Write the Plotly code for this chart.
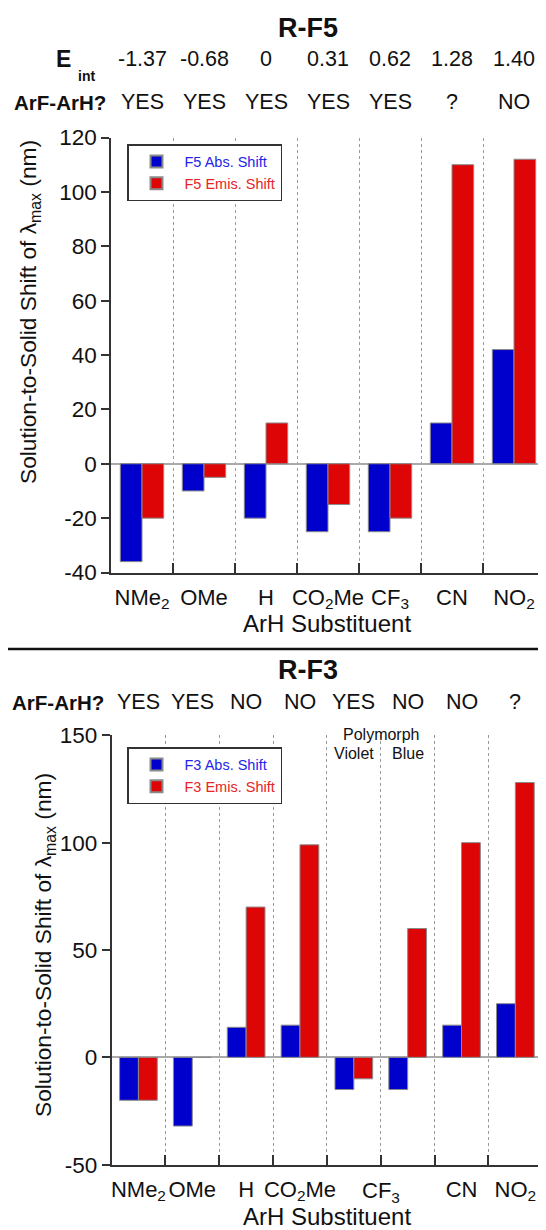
import plotly.graph_objects as go

# the page shows the figure offset by the 8px body margin; size and map coordinates for that
OFF = 8
W, H = 546 - OFF, 1230 - OFF

# ---------------- data ----------------
f5_categories = ["NMe2", "OMe", "H", "CO2Me", "CF3", "CN", "NO2"]
f5_ticktext = ["NMe<sub>2</sub>", "OMe", "H", "CO<sub>2</sub>Me", "CF<sub>3</sub>", "CN", "NO<sub>2</sub>"]
f5_abs = [-36, -10, -20, -25, -25, 15, 42]
f5_emis = [-20, -5, 15, -15, -20, 110, 112]
f5_eint = ["-1.37", "-0.68", "0", "0.31", "0.62", "1.28", "1.40"]
f5_arf = ["YES", "YES", "YES", "YES", "YES", "?", "NO"]
f5_yticks = [-40, -20, 0, 20, 40, 60, 80, 100, 120]

f3_categories = ["NMe2", "OMe", "H", "CO2Me", "CF3 Violet", "CF3 Blue", "CN", "NO2"]
f3_ticktext = ["NMe<sub>2</sub>", "OMe", "H", "CO<sub>2</sub>Me", " ", " ", "CN", "NO<sub>2</sub>"]
f3_abs = [-20, -32, 14, 15, -15, -15, 15, 25]
f3_emis = [-20, 0, 70, 99, -10, 60, 100, 128]
f3_arf = ["YES", "YES", "NO", "NO", "YES", "NO", "NO", "?"]
f3_polymorph = {"CF3 Violet": "Violet", "CF3 Blue": "Blue"}
f3_yticks = [-50, 0, 50, 100, 150]

BLUE = "#0000cc"
RED = "#dd0505"
FONT = "Liberation Sans, Arial, sans-serif"
AX = "#333333"


def px(x):
    return (x - OFF) / W


def py(y):
    return 1 - (y - OFF) / H


fig = go.Figure()

fig.add_trace(go.Bar(x=f5_categories, y=f5_abs, name="<span style='color:#2424e8'>F5 Abs. Shift</span>",
                     marker=dict(color=BLUE, line=dict(color="#8a8a8a", width=1)),
                     xaxis="x", yaxis="y", legend="legend"))
fig.add_trace(go.Bar(x=f5_categories, y=f5_emis, name="<span style='color:#e82424'>F5 Emis. Shift</span>",
                     marker=dict(color=RED, line=dict(color="#8a8a8a", width=1)),
                     xaxis="x", yaxis="y", legend="legend"))
fig.add_trace(go.Bar(x=f3_categories, y=f3_abs, name="<span style='color:#2424e8'>F3 Abs. Shift</span>",
                     marker=dict(color=BLUE, line=dict(color="#8a8a8a", width=1)),
                     xaxis="x2", yaxis="y2", legend="legend2"))
fig.add_trace(go.Bar(x=f3_categories, y=f3_emis, name="<span style='color:#e82424'>F3 Emis. Shift</span>",
                     marker=dict(color=RED, line=dict(color="#8a8a8a", width=1)),
                     xaxis="x2", yaxis="y2", legend="legend2"))

xcommon = dict(type="category", tickson="boundaries", ticks="inside", ticklen=10, tickwidth=1.5,
               tickcolor=AX, showgrid=True, gridcolor="#9a9a9a", griddash="dot", gridwidth=1,
               showline=True, linecolor=AX, linewidth=1.5, tickfont=dict(size=22, color="#111"),
               tickangle=0, ticklabelstandoff=4, automargin=False, fixedrange=True)
ycommon = dict(ticks="outside", ticklen=8, tickwidth=1.5, tickcolor=AX, showgrid=False,
               zeroline=True, zerolinecolor="#aaaaaa", zerolinewidth=1.5,
               showline=True, linecolor=AX, linewidth=1.5, tickfont=dict(size=22.5, color="#111"),
               tickmode="array", automargin=False, fixedrange=True)

legcommon = dict(bgcolor="white", bordercolor=AX, borderwidth=1.5, font=dict(size=14.5, family=FONT),
                 xanchor="left", yanchor="top", itemsizing="constant", itemwidth=46, tracegroupgap=0)

fig.update_layout(
    width=W, height=H, autosize=False,
    margin=dict(l=0, r=0, t=0, b=0, pad=0, autoexpand=False),
    paper_bgcolor="white", plot_bgcolor="white",
    font=dict(family=FONT, color="#111"),
    barmode="group", bargap=0.3, bargroupgap=0,
    xaxis=dict(domain=[px(111), px(545)], anchor="y", tickmode="array",
               tickvals=f5_categories, ticktext=f5_ticktext, **xcommon),
    yaxis=dict(domain=[py(572.5), py(137.5)], anchor="x", range=[-40, 120],
               tickvals=f5_yticks, ticktext=[str(v) for v in f5_yticks], **ycommon),
    xaxis2=dict(domain=[px(111.5), px(542.3)], anchor="y2", tickmode="array",
                tickvals=f3_categories, ticktext=f3_ticktext, **xcommon),
    yaxis2=dict(domain=[py(1164.7), py(735.3)], anchor="x2", range=[-50, 150],
                tickvals=f3_yticks, ticktext=[str(v) for v in f3_yticks], **ycommon),
    legend=dict(x=px(127), y=py(144), **legcommon),
    legend2=dict(x=px(127), y=py(747), **legcommon),
    showlegend=True,
)

ann = []
# titles
ann.append(dict(text="<b>R-F5</b>", x=px(308), y=py(28), xref="paper", yref="paper",
                showarrow=False, font=dict(size=27), xanchor="center", yanchor="middle"))
ann.append(dict(text="<b>R-F3</b>", x=px(308), y=py(670), xref="paper", yref="paper",
                showarrow=False, font=dict(size=27), xanchor="center", yanchor="middle"))
# E_int header
ann.append(dict(text="<b>E</b>", x=px(63.5), y=py(59), xref="paper", yref="paper",
                showarrow=False, font=dict(size=23), xanchor="center", yanchor="middle"))
ann.append(dict(text="<b>int</b>", x=px(86), y=py(76), xref="paper", yref="paper",
                showarrow=False, font=dict(size=14), xanchor="center", yanchor="middle"))
for c, v in zip(f5_categories, f5_eint):
    ann.append(dict(text=v, x=c, y=py(59), xref="x", yref="paper", showarrow=False,
                    font=dict(size=21.5), xanchor="center", yanchor="middle"))
# ArF-ArH rows
ann.append(dict(text="<b>ArF-ArH?</b>", x=px(60), y=py(102.5), xref="paper", yref="paper",
                showarrow=False, font=dict(size=20.5), xanchor="center", yanchor="middle"))
for c, v in zip(f5_categories, f5_arf):
    ann.append(dict(text=v, x=c, y=py(102.5), xref="x", yref="paper", showarrow=False,
                    font=dict(size=21.5), xanchor="center", yanchor="middle"))
ann.append(dict(text="<b>ArF-ArH?</b>", x=px(58), y=py(702), xref="paper", yref="paper",
                showarrow=False, font=dict(size=20.5), xanchor="center", yanchor="middle"))
for c, v in zip(f3_categories, f3_arf):
    ann.append(dict(text=v, x=c, y=py(702), xref="x2", yref="paper", showarrow=False,
                    font=dict(size=21.5), xanchor="center", yanchor="middle"))
# polymorph labels
ann.append(dict(text="Polymorph", x=4.5, y=py(734), xref="x2", yref="paper", showarrow=False,
                font=dict(size=16), xanchor="center", yanchor="middle"))
for c, v in f3_polymorph.items():
    ann.append(dict(text=v, x=c, y=py(753), xref="x2", yref="paper", showarrow=False,
                    font=dict(size=16), xanchor="center", yanchor="middle"))
# CF3 label for bottom chart (spanning both polymorphs)
ann.append(dict(text="CF<sub>3</sub>", x=4.5, y=py(1192), xref="x2", yref="paper", showarrow=False,
                font=dict(size=22), xanchor="center", yanchor="middle"))
# axis titles
ann.append(dict(text="ArH Substituent", x=px(327), y=py(623.5), xref="paper", yref="paper",
                showarrow=False, font=dict(size=24), xanchor="center", yanchor="middle"))
ann.append(dict(text="ArH Substituent", x=px(327), y=py(1216), xref="paper", yref="paper",
                showarrow=False, font=dict(size=24), xanchor="center", yanchor="middle"))
ytitle = "Solution-to-Solid Shift of λ<sub>max</sub> (nm)"
ann.append(dict(text=ytitle, x=px(29), y=py(312), xref="paper", yref="paper", textangle=-90,
                showarrow=False, font=dict(size=22.7), xanchor="center", yanchor="middle"))
ann.append(dict(text=ytitle, x=px(44), y=py(945), xref="paper", yref="paper", textangle=-90,
                showarrow=False, font=dict(size=22.7), xanchor="center", yanchor="middle"))
fig.update_layout(annotations=ann)

# separator line between panels
fig.add_shape(type="line", x0=0, x1=1, y0=py(649), y1=py(649), xref="paper", yref="paper",
              line=dict(color="#111", width=2.5))

fig.write_html("out.html")
